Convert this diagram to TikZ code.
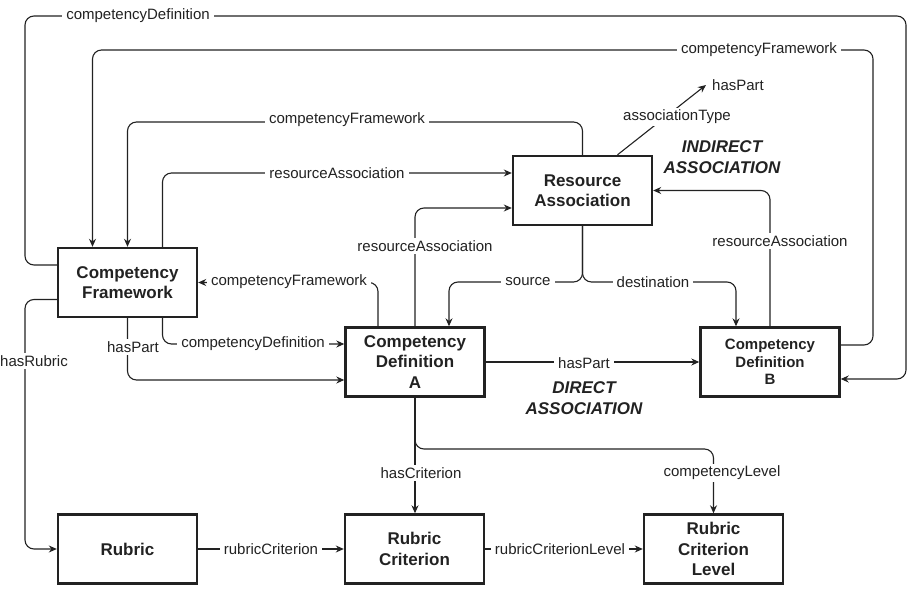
\documentclass[tikz,border=0pt]{standalone}
\usepackage{fontspec}
\setmainfont{Liberation Sans}
\usetikzlibrary{arrows.meta,calc}
\definecolor{ink}{RGB}{34,34,34}
\begin{document}
\begin{tikzpicture}[x=1pt,y=-1pt,
 box/.style={draw=ink, line width=2.4pt, minimum width=139pt, minimum height=69pt, align=center, font=\fontsize{17}{20.5}\selectfont\bfseries, text=ink, inner sep=0pt},
 smallbox/.style={box, font=\fontsize{15}{17.5}\selectfont\bfseries},
 conn/.style={draw=ink, line width=1.1pt, rounded corners=9pt},
 arr/.style={conn, -{Stealth[length=8pt,width=7pt]}},
 lbl/.style={fill=white, font=\fontsize{15}{18}\selectfont, text=ink, inner xsep=4pt, inner ysep=2pt},
 note/.style={font=\fontsize{17}{21}\selectfont\bfseries\itshape, align=center, text=ink}
]
\useasboundingbox (0,0) rectangle (923,604);

% boxes
\node[box] (cf) at (127.5,282.5) {Competency\\Framework};
\node[box] (ra) at (582.5,190.5) {Resource\\Association};
\node[box] (cda) at (415,362) {Competency\\Definition\\A};
\node[smallbox] (cdb) at (770,362) {Competency\\Definition\\B};
\node[box] (rub) at (127.5,549) {Rubric};
\node[box] (rc) at (414.5,549) {Rubric\\Criterion};
\node[box] (rcl) at (713.5,549) {Rubric\\Criterion\\Level};
\node[lbl, inner xsep=6pt] (hp) at (738,85) {hasPart};

% connectors
\draw[arr] ($(cf.west)+(0,-17.5)$) -| (25,16) -| (906,379) -- ($(cdb.east)+(0,17)$);
\draw[arr] ($(cdb.east)+(0,-17)$) -| (873,50) -| ($(cf.north)+(-35,0)$);
\draw[arr] (ra.north) -- (582.5,122) -| (cf.north);
\draw[arr] ($(cf.north)+(35,0)$) |- ($(ra.west)+(0,-17.5)$);
\draw[arr] (cda.north) |- ($(ra.west)+(0,17.5)$);
\draw[arr] (cdb.north) |- (ra.east);
\draw[arr] ($(ra.north)+(35,0)$) -- (hp.west);
\draw[arr] (ra.south) -- (582.5,282) -| ($(cda.north)+(34,0)$);
\draw[arr] (ra.south) -- (582.5,282) -| ($(cdb.north)+(-34,0)$);
\draw[arr] ($(cda.north)+(-37,0)$) |- (cf.east);
\draw[arr] ($(cf.south)+(35,0)$) |- ($(cda.west)+(0,-18)$);
\draw[arr] (cf.south) |- ($(cda.west)+(0,18)$);
\draw[arr] ($(cf.west)+(0,17)$) -| (25,549) -- (rub.west);
\draw[arr] (cda.east) -- (cdb.west);
\draw[arr] (cda.south) -- (cda.south |- rc.north);
\draw[arr] (cda.south) -- (415,449) -| (rcl.north);
\draw[arr] (rub.east) -- (rc.west);
\draw[arr] (rc.east) -- (rcl.west);

% labels
\node[lbl] (l1) at (138,16) {competencyDefinition};
\node[lbl] (l2) at (759,50) {competencyFramework};
\node[lbl] (l3) at (347,120) {competencyFramework};
\node[lbl] (l4) at (337,173) {resourceAssociation};
\node[lbl] (l5) at (425,246) {resourceAssociation};
\node[lbl] (l6) at (780,241) {resourceAssociation};
\node[lbl] (l7) at (677,117) {associationType};
\node[lbl] (l8) at (528,282) {source};
\node[lbl] (l9) at (653,282) {destination};
\node[lbl] (l10) at (289,282) {competencyFramework};
\node[lbl] (l11) at (253,344) {competencyDefinition};
\node[lbl] (l12) at (133,347) {hasPart};
\node[lbl] (l13) at (34,361) {hasRubric};
\node[lbl] (l14) at (584,363) {hasPart};
\node[lbl] (l15) at (421,473) {hasCriterion};
\node[lbl] (l16) at (722,473) {competencyLevel};
\node[lbl] (l17) at (271,549) {rubricCriterion};
\node[lbl] (l18) at (560,549) {rubricCriterionLevel};

\node[note] (n1) at (722,157) {INDIRECT\\ASSOCIATION};
\node[note] (n2) at (584,398) {DIRECT\\ASSOCIATION};
\end{tikzpicture}
\end{document}
